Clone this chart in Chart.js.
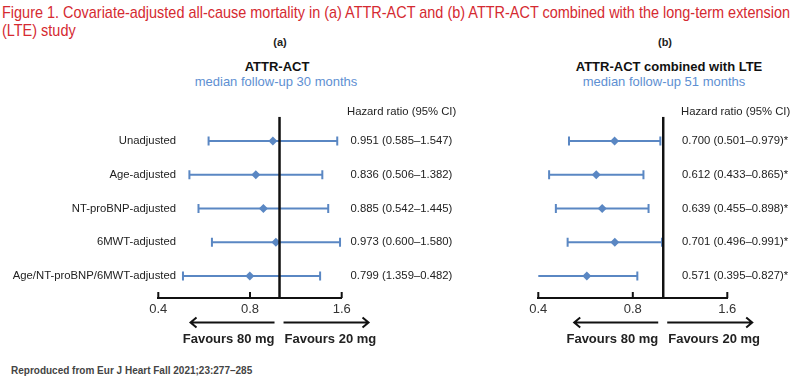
<!DOCTYPE html>
<html>
<head>
<meta charset="utf-8">
<script src="https://cdn.jsdelivr.net/npm/chart.js@4.4.1/dist/chart.umd.min.js"></script>
<style>
  body { margin: 0; width: 800px; height: 384px; background: #fff; position: relative; overflow: hidden;
         font-family: "Liberation Sans", Arial, Helvetica, sans-serif; }
  #title { position: absolute; left: 2px; top: 4px; color: #d52a31; font-size: 17px; line-height: 18px;
           font-family: "Liberation Sans Narrow", "Liberation Sans", Arial, sans-serif; white-space: nowrap;
           transform-origin: 0 0; }
  .c { position: absolute; transform: translate(-50%, -50%); white-space: nowrap; line-height: 1; }
  .tag { font-size: 11px; font-weight: bold; color: #222; }
  .head { font-size: 13px; font-weight: bold; color: #111; }
  .sub { font-size: 13px; color: #5e8fd2; }
  #foot { position: absolute; left: 11px; top: 365px; font-size: 10px; font-weight: bold; color: #444; white-space: nowrap; }
  canvas { position: absolute; top: 100px; }
</style>
</head>
<body>
<div id="title"><span id="line1">Figure 1. Covariate-adjusted all-cause mortality in (a) ATTR-ACT and (b) ATTR-ACT combined with the long-term extension</span><br>(LTE) study</div>

<div class="c tag" style="left:280px;top:42px">(a)</div>
<div class="c head" style="left:277px;top:66px">ATTR-ACT</div>
<div class="c sub" style="left:276px;top:81px">median follow-up 30 months</div>

<div class="c tag" style="left:665px;top:42px">(b)</div>
<div class="c head" style="left:669px;top:66px">ATTR-ACT combined with LTE</div>
<div class="c sub" style="left:664px;top:81px">median follow-up 51 months</div>

<canvas id="chartA" width="480" height="260" style="left:0px"></canvas>
<canvas id="chartB" width="400" height="260" style="left:400px"></canvas>

<div id="foot">Reproduced from Eur J Heart Fall 2021;23:277–285</div>

<script>
// rows, top to bottom
const rowLabels = ['Unadjusted', 'Age-adjusted', 'NT-proBNP-adjusted', '6MWT-adjusted', 'Age/NT-proBNP/6MWT-adjusted'];

// (a) ATTR-ACT
const hrA = [0.951, 0.836, 0.885, 0.973, 0.799];
const lowA = [0.585, 0.506, 0.542, 0.600, 0.482];
const highA = [1.547, 1.382, 1.445, 1.580, 1.359];
const ciTextA = ['0.951 (0.585–1.547)', '0.836 (0.506–1.382)', '0.885 (0.542–1.445)', '0.973 (0.600–1.580)', '0.799 (1.359–0.482)'];

// (b) ATTR-ACT combined with LTE
const hrB = [0.700, 0.612, 0.639, 0.701, 0.571];
const lowB = [0.501, 0.433, 0.455, 0.496, 0.395];
const highB = [0.979, 0.865, 0.898, 0.991, 0.827];
const ciTextB = ['0.700 (0.501–0.979)*', '0.612 (0.433–0.865)*', '0.639 (0.455–0.898)*', '0.701 (0.496–0.991)*', '0.571 (0.395–0.827)*'];

const xTicks = [0.4, 0.8, 1.6];
const noEffect = 1;
const xMin = 0.4, xMax = 1.6;
const yTop = 0.28, yBottom = 5.65;

const BLUE = '#5a87c3';
const FONT = '"Liberation Sans", Arial, Helvetica, sans-serif';

// squeeze the red figure title to its width in the original
const line1 = document.getElementById('line1');
const tw = line1.getBoundingClientRect().width;
document.getElementById('title').style.transform = 'scaleX(' + (788 / tw) + ')';

function arrow(ctx, x1, x2, y) {
  const d = x2 > x1 ? 1 : -1;
  ctx.beginPath();
  ctx.moveTo(x1, y);
  ctx.lineTo(x2, y);
  ctx.moveTo(x2 - d * 6, y - 5);
  ctx.lineTo(x2, y);
  ctx.lineTo(x2 - d * 6, y + 5);
  ctx.stroke();
}

// labels, hazard ratio column, tick marks and arrows
const forestText = {
  id: 'forestText',
  afterDraw(chart, args, opts) {
    const ctx = chart.ctx;
    const xs = chart.scales.x, ys = chart.scales.y;
    const area = chart.chartArea;
    ctx.save();

    ctx.strokeStyle = '#111';
    ctx.lineWidth = 2;
    xTicks.forEach(v => {
      const px = xs.getPixelForValue(v);
      ctx.beginPath();
      ctx.moveTo(px, area.bottom);
      ctx.lineTo(px, area.bottom - 6);
      ctx.stroke();
    });

    ctx.font = '11.3px ' + FONT;
    ctx.fillStyle = '#222';
    ctx.textBaseline = 'middle';
    ctx.textAlign = 'left';
    ctx.fillText('Hazard ratio (95% CI)', opts.headX, 12);
    opts.texts.forEach((t, i) => {
      ctx.fillText(t, opts.textX, ys.getPixelForValue(i + 1));
    });
    if (opts.showLabels) {
      ctx.textAlign = 'right';
      rowLabels.forEach((t, i) => {
        ctx.fillText(t, 176, ys.getPixelForValue(i + 1));
      });
    }

    const r = xs.getPixelForValue(noEffect);
    ctx.lineWidth = 2;
    arrow(ctx, r - 5, r - 89, 222.5);
    arrow(ctx, r + 4, r + 89, 222.5);

    ctx.font = 'bold 13px ' + FONT;
    ctx.fillStyle = '#222';
    ctx.textAlign = 'right';
    ctx.fillText('Favours 80 mg', r - 5, 239);
    ctx.textAlign = 'left';
    ctx.fillText('Favours 20 mg', r + 5, 239);
    ctx.restore();
  }
};

function makeForest(id, hr, low, high, texts, pad, textX, headX, showLabels) {
  const datasets = [];
  datasets.push({
    data: [{ x: noEffect, y: yTop }, { x: noEffect, y: yBottom }],
    showLine: true, borderColor: '#111', borderWidth: 2.5, pointRadius: 0, order: 0
  });
  hr.forEach((v, i) => {
    datasets.push({
      data: [{ x: low[i], y: i + 1 }, { x: high[i], y: i + 1 }],
      showLine: true, borderColor: BLUE, borderWidth: 2,
      pointStyle: 'line', pointRotation: 90, pointRadius: 4.5, pointBorderWidth: 2,
      pointBorderColor: BLUE, order: 2
    });
  });
  datasets.push({
    data: hr.map((v, i) => ({ x: v, y: i + 1 })),
    pointStyle: 'rectRot', pointRadius: 4.5, backgroundColor: BLUE, borderColor: BLUE,
    borderWidth: 0, showLine: false, order: 1
  });

  new Chart(document.getElementById(id).getContext('2d'), {
    type: 'scatter',
    data: { datasets: datasets },
    options: {
      responsive: false,
      animation: false,
      events: [],
      layout: { padding: pad },
      scales: {
        x: {
          type: 'logarithmic',
          min: xMin, max: xMax,
          afterBuildTicks: s => { s.ticks = xTicks.map(v => ({ value: v })); },
          afterFit: s => { s.height = 20; },
          grid: { display: false, drawTicks: false },
          border: { display: true, color: '#111', width: 2 },
          ticks: { padding: 4, color: '#333', font: { size: 13, family: FONT }, callback: v => String(v) }
        },
        y: { type: 'linear', reverse: true, min: yTop, max: yBottom, display: false }
      },
      plugins: {
        legend: { display: false },
        tooltip: { enabled: false },
        forestText: { texts: texts, textX: textX, headX: headX, showLabels: showLabels }
      }
    },
    plugins: [forestText]
  });
}

makeForest('chartA', hrA, lowA, highA, ciTextA, { left: 158.3, right: 138.3, top: 16.7, bottom: 42 }, 350.5, 347, true);
makeForest('chartB', hrB, lowB, highB, ciTextB, { left: 138.3, right: 72.7, top: 16.7, bottom: 42 }, 282, 281, false);
</script>
</body>
</html>
